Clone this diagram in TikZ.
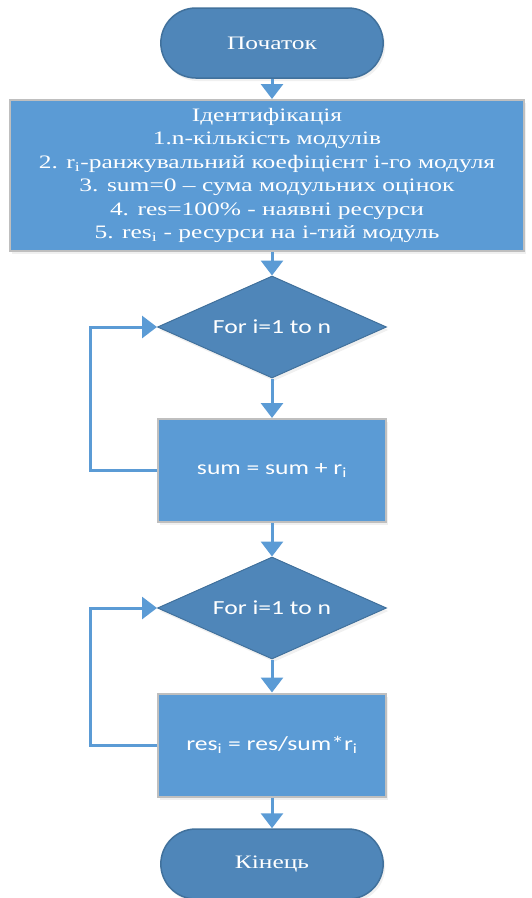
\documentclass[tikz,border=0pt]{standalone}
\usepackage{fontspec}
\setmainfont{Liberation Serif}[FakeStretch=1.34]
\newfontfamily\calibri{Carlito}[FakeStretch=1.28]
\usepackage{tikz}
\usetikzlibrary{shapes.geometric}
\usetikzlibrary{shapes.misc}
\usetikzlibrary{arrows.meta}
\usetikzlibrary{shadows}
\usetikzlibrary{positioning}
\definecolor{Blau}{HTML}{5B9BD5}
\definecolor{Dunkelblau}{HTML}{4F86B9}
\definecolor{Rand}{HTML}{41719C}
\definecolor{Grau}{HTML}{BFBFBF}
\tikzset{
  Pfeil/.style={line width=3pt, draw=Blau, -{Triangle[width=22pt,length=15pt]}}, % Verbindungen
  Schatten/.style={drop shadow={opacity=0.12, shadow xshift=2pt, shadow yshift=-3pt}},
  Terminal/.style={rounded rectangle, draw=Rand, fill=Dunkelblau, line width=1.5pt, Schatten,
    minimum width=229pt, minimum height=70pt, text=white, font=\fontsize{19}{23.5}\selectfont},
  Block/.style={rectangle, draw=Grau, fill=Blau, line width=2pt, Schatten, text=white,
    align=center, inner sep=0pt}, % Prozess
  Raute/.style={diamond, aspect=2.25, draw=Rand, fill=Dunkelblau, line width=1pt, Schatten, inner sep=0pt,
    minimum width=229pt, minimum height=102pt, text=white, font=\calibri\fontsize{20}{24}\selectfont}
}

\begin{document}
\begin{tikzpicture}[x=1pt, y=1pt, >=latex]
\useasboundingbox (0,0) rectangle (531,-898);

%Bloecke
\node[Terminal] (Start) at (272,-43) {Початок};
\node[Block, minimum width=514pt, minimum height=151pt,
  font=\fontsize{19}{23.5}\selectfont] (Ident) at (267,-175.5)
  {Ідентифікація\\
   1.n-кількість модулів\\
   2. r\textsubscript{i}-ранжувальний коефіцієнт і-го модуля\\
   3. sum=0 – сума модульних оцінок\\
   4. res=100\% - наявні ресурси\\
   5. res\textsubscript{i} - ресурси на і-тий модуль};
\node[Raute] (Loop1) at (272,-327) {For i=1 to n};
\node[Block, minimum width=228pt, minimum height=103pt,
  font=\calibri\fontsize{20}{24}\selectfont] (Sum) at (272,-470.5)
  {sum = sum + r\textsubscript{i}};
\node[Raute] (Loop2) at (272,-608) {For i=1 to n};
\node[Block, minimum width=228pt, minimum height=103pt,
  font=\calibri\fontsize{20}{24}\selectfont] (Res) at (272,-745)
  {res\textsubscript{i} = res/sum*r\textsubscript{i}};
\node[Terminal] (End) at (272,-864) {Кінець};

%Knickpunkte der Schleifen
\coordinate (Knick) at (90,0);

%Verbindungen
\draw[Pfeil] (Start.south) -- (Start.south |- Ident.north);
\draw[Pfeil] (Loop1.north |- Ident.south) -- (Loop1.north);
\draw[Pfeil] (Loop1.south) -- (Sum.north);
\draw[Pfeil] (Sum.south) -- (Loop2.north);
\draw[Pfeil] (Loop2.south) -- (Res.north);
\draw[Pfeil] (Res.south) -- (End.north);

%Schleifen
\draw[Pfeil] (Sum.west) -- (Sum.west -| Knick) |- (Loop1.west);
\draw[Pfeil] (Res.west) -- (Res.west -| Knick) |- (Loop2.west);

\end{tikzpicture}
\end{document}
